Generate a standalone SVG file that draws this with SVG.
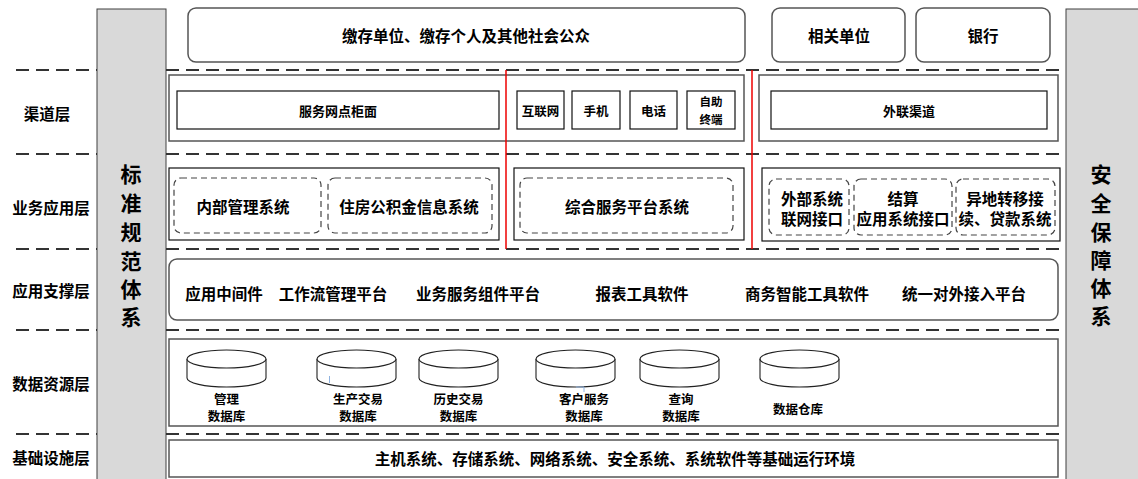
<svg xmlns="http://www.w3.org/2000/svg" width="1138" height="479" viewBox="0 0 1138 479">
<style>
text{font-family:"Noto Sans CJK SC","Liberation Sans",sans-serif;font-weight:bold;fill:#000;text-anchor:middle;dominant-baseline:central}
.dash{stroke:#333;stroke-width:2;stroke-dasharray:13 7;fill:none}
.bar{fill:#d9d9d9;stroke:#404040;stroke-width:1}
.outer{fill:#fff;stroke:#555;stroke-width:1.5}
.inner{fill:#fff;stroke:#111;stroke-width:1.2}
.dbox{fill:#fff;stroke:#444;stroke-width:1.2;stroke-dasharray:6 4}
.red{stroke:#e00;stroke-width:1.5}
.cyl{fill:#fff;stroke:#222;stroke-width:1.1}
.t15{font-size:15.5px}
.t13{font-size:13px}
.t12{font-size:12.5px}
.t11{font-size:11.5px}
.big{font-size:21px}
</style>
<rect width="1138" height="479" fill="#fff"/>

<g id="bars">
<rect class="bar" x="97" y="9" width="69" height="475"/>
<rect class="bar" x="1066" y="9" width="80" height="475"/>
<g id="std" class="big"><text x="131" y="173">标</text><text x="131" y="202">准</text><text x="131" y="231">规</text><text x="131" y="260">范</text><text x="131" y="288">体</text><text x="131" y="316">系</text></g>
<g id="sec" class="big"><text x="1101" y="173">安</text><text x="1101" y="202">全</text><text x="1101" y="231">保</text><text x="1101" y="259">障</text><text x="1101" y="287">体</text><text x="1101" y="315">系</text></g>
</g>

<g id="dividers">
<path class="dash" d="M16 70H97M166 70H1066"/>
<path class="dash" d="M16 154H97M166 154H1066"/>
<path class="dash" d="M16 249H97M166 249H1066"/>
<path class="dash" d="M16 330H97M166 330H1066"/>
<path class="dash" d="M16 434H97M166 434H1066"/>
</g>

<g id="layer-labels" class="t15">
<text x="47" y="113">渠道层</text>
<text x="51" y="207">业务应用层</text>
<text x="51" y="290">应用支撑层</text>
<text x="51" y="383">数据资源层</text>
<text x="51" y="457">基础设施层</text>
</g>

<g id="top">
<g id="public"><rect class="outer" x="188" y="8" width="557" height="54" rx="8"/><text class="t15" x="466" y="35">缴存单位、缴存个人及其他社会公众</text></g>
<g id="related"><rect class="outer" x="772" y="8" width="133" height="54" rx="8"/><text class="t15" x="839" y="35">相关单位</text></g>
<g id="bank"><rect class="outer" x="916" y="8" width="134" height="54" rx="8"/><text class="t15" x="983" y="35">银行</text></g>
</g>

<g id="channel">
<rect class="outer" x="169" y="75" width="575" height="66"/>
<rect class="outer" x="759" y="75" width="299" height="66"/>
<g id="counter"><rect class="inner" x="177" y="91" width="322" height="38"/><text class="t13" x="338" y="110">服务网点柜面</text></g>
<g id="internet"><rect class="inner" x="517" y="91" width="47" height="38"/><text class="t12" x="540.5" y="110">互联网</text></g>
<g id="mobile"><rect class="inner" x="572" y="91" width="48" height="38"/><text class="t12" x="596" y="110">手机</text></g>
<g id="phone"><rect class="inner" x="630" y="91" width="47" height="38"/><text class="t12" x="653.5" y="110">电话</text></g>
<g id="selfservice"><rect class="inner" x="687" y="91" width="48" height="38"/><text class="t11" x="711" y="101">自助</text><text class="t11" x="711" y="119">终端</text></g>
<g id="external-channel"><rect class="inner" x="771" y="91" width="276" height="38"/><text class="t13" x="909" y="110">外联渠道</text></g>
</g>

<g id="business">
<rect class="inner" x="169" y="168" width="330" height="72"/>
<rect class="inner" x="514" y="168" width="230" height="72"/>
<rect class="inner" x="762" y="168" width="298" height="73"/>
<g id="internal-mgmt"><rect class="dbox" x="174" y="178" width="147" height="55" rx="7"/><text class="t15" x="243" y="206">内部管理系统</text></g>
<g id="hpf-info"><rect class="dbox" x="328" y="178" width="164" height="55" rx="7"/><text class="t15" x="409" y="206">住房公积金信息系统</text></g>
<g id="service-platform"><rect class="dbox" x="520" y="178" width="213" height="55" rx="7"/><text class="t15" x="627" y="206">综合服务平台系统</text></g>
<g id="ext-iface"><rect class="dbox" x="769" y="179" width="80" height="56" rx="7"/><text class="t15" x="812" y="198">外部系统</text><text class="t15" x="812" y="218">联网接口</text></g>
<g id="settle-iface"><rect class="dbox" x="854" y="179" width="98" height="56" rx="7"/><text class="t15" x="903" y="198">结算</text><text class="t15" x="903" y="218">应用系统接口</text></g>
<g id="transfer"><rect class="dbox" x="956" y="179" width="99" height="56" rx="7"/><text class="t15" x="1005" y="198">异地转移接</text><text class="t15" x="1005" y="218">续、贷款系统</text></g>
</g>

<g id="connectors">
<line class="red" x1="506" y1="70" x2="506" y2="249"/>
<line class="red" x1="752" y1="70" x2="752" y2="249"/>
</g>

<g id="support">
<rect class="outer" x="169" y="259" width="889" height="61" rx="8"/>
<g class="t15">
<text x="224" y="293">应用中间件</text>
<text x="333" y="293">工作流管理平台</text>
<text x="478" y="293">业务服务组件平台</text>
<text x="642" y="293">报表工具软件</text>
<text x="807" y="293">商务智能工具软件</text>
<text x="964" y="293">统一对外接入平台</text>
</g>
</g>

<g id="data">
<rect class="outer" x="169" y="339" width="889" height="87"/>
<g id="db-mgmt"><path class="cyl" d="M187 359V378A39.5 9 0 0 0 266 378V359"/><ellipse class="cyl" cx="226.5" cy="359" rx="39.5" ry="9"/><text class="t12" x="226.5" y="398">管理</text><text class="t12" x="226.5" y="415">数据库</text></g>
<g id="db-prod"><path class="cyl" d="M317 359V378A39.5 9 0 0 0 396 378V359"/><ellipse class="cyl" cx="356.5" cy="359" rx="39.5" ry="9"/><text class="t12" x="358" y="398">生产交易</text><text class="t12" x="358" y="415">数据库</text></g>
<g id="db-hist"><path class="cyl" d="M419 359V378A39.5 9 0 0 0 498 378V359"/><ellipse class="cyl" cx="458.5" cy="359" rx="39.5" ry="9"/><text class="t12" x="458.5" y="398">历史交易</text><text class="t12" x="458.5" y="415">数据库</text></g>
<g id="db-cust"><path class="cyl" d="M536 359V378A39.5 9 0 0 0 615 378V359"/><ellipse class="cyl" cx="575.5" cy="359" rx="39.5" ry="9"/><text class="t12" x="584" y="398">客户服务</text><text class="t12" x="584" y="415">数据库</text></g>
<g id="db-query"><path class="cyl" d="M640 359V378A39.5 9 0 0 0 719 378V359"/><ellipse class="cyl" cx="679.5" cy="359" rx="39.5" ry="9"/><text class="t12" x="681" y="398">查询</text><text class="t12" x="681" y="415">数据库</text></g>
<g id="db-dw"><path class="cyl" d="M760 359V378A39.5 9 0 0 0 839 378V359"/><ellipse class="cyl" cx="799.5" cy="359" rx="39.5" ry="9"/><text class="t12" x="798" y="408">数据仓库</text></g>
<path d="M329.5 376V383M576 387H584V392" stroke="#8fb3e0" stroke-width="1" fill="none"/>
</g>

<g id="infra">
<rect class="outer" x="169" y="440" width="889" height="37"/>
<text class="t15" x="615" y="458">主机系统、存储系统、网络系统、安全系统、系统软件等基础运行环境</text>
</g>
</svg>
